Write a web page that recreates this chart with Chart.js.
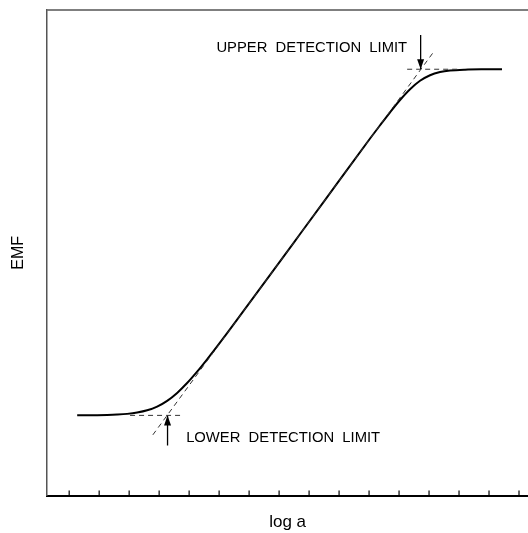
<!DOCTYPE html>
<html>
<head>
<meta charset="utf-8">
<script src="https://cdn.jsdelivr.net/npm/chart.js@4.4.1/dist/chart.umd.min.js"></script>
<style>
    html, body { margin: 0; padding: 0; background: #fff; }
    #wrap { width: 528px; height: 533px; }
</style>
</head>
<body>
<div id="wrap"><canvas id="emfChart" width="528" height="533"></canvas></div>
<script>
// Response curve: EMF against log a
const curveX = [1.267, 1.933, 2.267, 2.6, 2.933, 3.267, 3.6, 3.933, 4.267, 4.6, 4.933, 5.267, 5.6, 5.933, 6.267, 6.6,
    7.7, 8.7, 10.033, 11.033, 11.367, 11.7, 12.033, 12.367, 12.7, 13.033, 13.367, 13.7, 14.2, 14.867, 15.433];
const curveY = [16.53, 16.57, 16.61, 16.69, 16.83, 17.10, 17.56, 18.34, 19.52, 21.15, 23.18, 25.53, 28.07, 30.73, 33.46, 36.23,
    45.45, 53.87, 65.11, 73.54, 76.27, 78.94, 81.46, 83.68, 85.42, 86.57, 87.22, 87.54, 87.72, 87.78, 87.79];

// Extrapolated linear part and the two plateau levels
const tangentX = [3.79, 13.17];
const tangentY = [12.51, 91.51];
const lowerLevelX = [3.03, 4.77];
const lowerLevelY = [16.52, 16.52];
const upperLevelX = [12.27, 14.03];
const upperLevelY = [87.8, 87.8];

// Arrows pointing at the detection limits (last point is the tip)
const lowerArrowX = [4.28, 4.28];
const lowerArrowY = [10.3, 16.52];
const upperArrowX = [12.72, 12.72];
const upperArrowY = [94.86, 87.8];

const xTicks = [1, 2, 3, 4, 5, 6, 7, 8, 9, 10, 11, 12, 13, 14, 15, 16];

const notes = [
    { text: 'UPPER  DETECTION  LIMIT', x: 12.27, y: 92.2, align: 'right' },
    { text: 'LOWER  DETECTION  LIMIT', x: 4.9, y: 11.9, align: 'left' }
];

function toPoints(xs, ys) {
    return xs.map((x, i) => ({ x: x, y: ys[i] }));
}

function dashed(xs, ys) {
    return {
        data: toPoints(xs, ys),
        borderColor: '#333',
        borderWidth: 1,
        borderDash: [5, 4],
        pointRadius: 0,
        tension: 0
    };
}

function arrow(xs, ys) {
    return {
        data: toPoints(xs, ys),
        borderColor: '#000',
        borderWidth: 1.3,
        pointRadius: 0,
        tension: 0,
        isArrow: true
    };
}

// Inward tick marks, plot frame, arrow heads and the annotations
const decorations = {
    id: 'decorations',
    afterDatasetsDraw(chart) {
        const ctx = chart.ctx;
        const area = chart.chartArea;
        const xs = chart.scales.x;
        const ys = chart.scales.y;
        ctx.save();

        // top edge of the frame
        ctx.strokeStyle = '#555';
        ctx.lineWidth = 1.5;
        ctx.beginPath();
        ctx.moveTo(area.left, area.top);
        ctx.lineTo(area.right, area.top);
        ctx.stroke();

        // ticks pointing up from the x axis
        ctx.strokeStyle = '#000';
        ctx.lineWidth = 1.2;
        xs.ticks.forEach(t => {
            const px = xs.getPixelForValue(t.value);
            ctx.beginPath();
            ctx.moveTo(px, area.bottom);
            ctx.lineTo(px, area.bottom - 5);
            ctx.stroke();
        });

        // arrow heads
        ctx.fillStyle = '#000';
        chart.data.datasets.forEach(ds => {
            if (!ds.isArrow) return;
            const n = ds.data.length;
            const tipX = xs.getPixelForValue(ds.data[n - 1].x);
            const tipY = ys.getPixelForValue(ds.data[n - 1].y);
            const fromY = ys.getPixelForValue(ds.data[n - 2].y);
            const dir = tipY > fromY ? 1 : -1;
            ctx.beginPath();
            ctx.moveTo(tipX, tipY);
            ctx.lineTo(tipX - 3.5, tipY - dir * 10);
            ctx.lineTo(tipX + 3.5, tipY - dir * 10);
            ctx.closePath();
            ctx.fill();
        });

        // text labels
        ctx.font = '14.8px "Liberation Sans", Arial, sans-serif';
        ctx.textBaseline = 'middle';
        notes.forEach(n => {
            ctx.textAlign = n.align;
            ctx.fillText(n.text, xs.getPixelForValue(n.x), ys.getPixelForValue(n.y));
        });
        ctx.restore();
    }
};

const ctx = document.getElementById('emfChart').getContext('2d');
new Chart(ctx, {
    type: 'line',
    data: {
        datasets: [
            dashed(tangentX, tangentY),
            dashed(lowerLevelX, lowerLevelY),
            dashed(upperLevelX, upperLevelY),
            arrow(lowerArrowX, lowerArrowY),
            arrow(upperArrowX, upperArrowY),
            {
                data: toPoints(curveX, curveY),
                borderColor: '#000',
                borderWidth: 2,
                pointRadius: 0,
                cubicInterpolationMode: 'monotone'
            }
        ]
    },
    options: {
        responsive: false,
        animation: false,
        layout: { padding: { top: 10, left: 0, right: 0, bottom: 0 } },
        plugins: {
            legend: { display: false },
            tooltip: { enabled: false }
        },
        scales: {
            x: {
                type: 'linear',
                min: 0.267,
                max: 16.3,
                afterBuildTicks: scale => {
                    scale.ticks = xTicks.map(v => ({ value: v }));
                },
                ticks: { display: false },
                grid: { drawOnChartArea: false, drawTicks: false },
                border: { display: true, color: '#000', width: 2 },
                title: {
                    display: true,
                    text: 'log a',
                    color: '#000',
                    font: { family: '"Liberation Sans", Arial, sans-serif', size: 17 },
                    padding: { top: 17, bottom: 0 }
                }
            },
            y: {
                type: 'linear',
                min: 0,
                max: 100,
                ticks: { display: false },
                grid: { drawOnChartArea: false, drawTicks: false },
                border: { display: true, color: '#555', width: 1.5 },
                title: {
                    display: true,
                    text: 'EMF',
                    color: '#000',
                    font: { family: '"Liberation Sans", Arial, sans-serif', size: 16 },
                    padding: { top: 9, bottom: 19 }
                }
            }
        }
    },
    plugins: [decorations]
});
</script>
</body>
</html>
